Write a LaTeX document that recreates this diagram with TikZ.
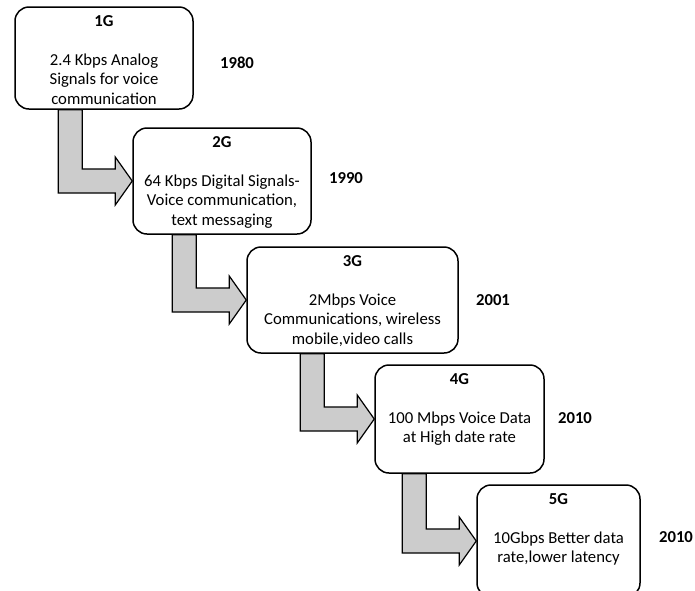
\documentclass[tikz,border=0pt]{standalone}
\usepackage{fontspec}
\setmainfont{Carlito}
\usetikzlibrary{positioning, calc, backgrounds}
\usepackage{xcolor}
\definecolor{ArrowFill}{HTML}{CCCCCC}

\begin{document}
\begin{tikzpicture}[x=1pt, y=-1pt,
            gen/.style={rectangle, draw=black, line width=1.5pt, fill=white, rounded corners=14pt, inner sep=0pt},
            txt/.style={align=center, inner sep=0pt, anchor=north, yshift=-9pt, font=\fontsize{16.7}{19.5}\selectfont},
            year/.style={font=\fontsize{16.7}{19.5}\selectfont\bfseries},
            bent/.style={draw=black, line width=1.2pt, fill=ArrowFill, line join=miter}
        ]
            \useasboundingbox (0,0) rectangle (695,590);

            % Generation boxes
            \node[gen, minimum width=178pt, minimum height=102pt] (g1) at (104,58) {};
            \node[gen, minimum width=178pt, minimum height=106pt] (g2) at (222,181) {};
            \node[gen, minimum width=211pt, minimum height=106pt] (g3) at (352.5,300) {};
            \node[gen, minimum width=169pt, minimum height=108pt] (g4) at (459.5,419) {};
            \node[gen, minimum width=163pt, minimum height=112pt] (g5) at (558.5,541) {};

            % Box texts
            \node[txt] (t1) at (g1.north) {\textbf{1G}\\[19.5pt]2.4 Kbps Analog\\Signals for voice\\communication};
            \node[txt] (t2) at (g2.north) {\textbf{2G}\\[19.5pt]64 Kbps Digital Signals-\\Voice communication,\\text messaging};
            \node[txt] (t3) at (g3.north) {\textbf{3G}\\[19.5pt]2Mbps Voice\\Communications, wireless\\mobile,video calls};
            \node[txt] (t4) at (g4.north) {\textbf{4G}\\[19.5pt]100 Mbps Voice Data\\at High date rate};
            \node[txt] (t5) at (g5.north) {\textbf{5G}\\[19.5pt]10Gbps Better data\\rate,lower latency};

            % Years
            \node[year] (y1) at (237,63) {1980};
            \node[year] (y2) at (346,178) {1990};
            \node[year] (y3) at (493,300) {2001};
            \node[year] (y4) at (575,418) {2010};
            \node[year] (y5) at (676,537) {2010};

            % Bent arrows between generations
            \begin{scope}[on background layer]
                \foreach \a/\b in {g1/g2, g2/g3, g3/g4, g4/g5}
                    \draw[bent] let \p1=(\a.south), \p2=(\b.west) in
                        (\x2-74pt,\y1) -- (\x2-50pt,\y1) -- (\x2-50pt,\y2+12pt) -- (\x2-17pt,\y2+12pt)
                        -- (\x2-17pt,\y2+24pt) -- (\p2) -- (\x2-17pt,\y2-24pt) -- (\x2-17pt,\y2-12pt)
                        -- (\x2-74pt,\y2-12pt) -- cycle;
            \end{scope}
        \end{tikzpicture}
\end{document}
